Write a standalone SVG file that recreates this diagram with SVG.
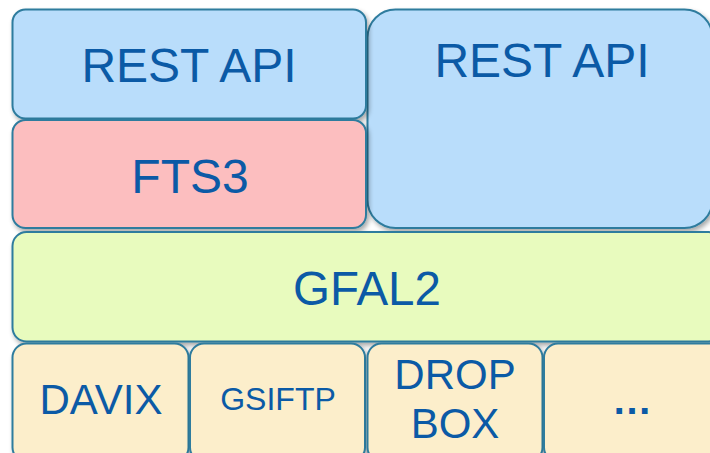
<svg xmlns="http://www.w3.org/2000/svg" width="710" height="453" viewBox="0 0 710 453">
  <defs>
    <filter id="sh" x="-5%" y="-5%" width="115%" height="120%">
      <feGaussianBlur in="SourceAlpha" stdDeviation="2.5"/>
      <feOffset dx="2" dy="3" result="b"/>
      <feComponentTransfer><feFuncA type="linear" slope="0.35"/></feComponentTransfer>
      <feMerge><feMergeNode/><feMergeNode in="SourceGraphic"/></feMerge>
    </filter>
  </defs>
  <style>
    .box { stroke: #2F7C9E; stroke-width: 2; filter: url(#sh); }
    .blue { fill: #B9DDFB; }
    .pink { fill: #FCBEBF; }
    .green { fill: #E8FBBE; }
    .tan { fill: #FCEECB; }
    text { font-family: "Liberation Sans", Arial, sans-serif; fill: #0B5AA6; text-anchor: middle; }
  </style>
  <rect width="710" height="453" fill="#FFFFFF"/>
  <g id="rest-api-right">
    <rect class="box blue" x="367.5" y="9.5" width="345" height="218.5" rx="28"/>
    <text x="542" y="77" font-size="48">REST API</text>
  </g>
  <g id="rest-api-left">
    <rect class="box blue" x="12.5" y="9.5" width="353.5" height="109" rx="13"/>
    <text x="189" y="82" font-size="48">REST API</text>
  </g>
  <g id="fts3">
    <rect class="box pink" x="12.5" y="120" width="353.5" height="108" rx="13"/>
    <text x="190" y="193" font-size="48">FTS3</text>
  </g>
  <g id="gfal2">
    <rect class="box green" x="12.5" y="232" width="710" height="109.5" rx="14"/>
    <text x="367" y="305" font-size="47.5">GFAL2</text>
  </g>
  <g id="davix">
    <rect class="box tan" x="12.5" y="343.5" width="176" height="118" rx="14"/>
    <text x="101" y="414" font-size="42">DAVIX</text>
  </g>
  <g id="gsiftp">
    <rect class="box tan" x="190" y="343.5" width="175" height="118" rx="14"/>
    <text x="278" y="410" font-size="32">GSIFTP</text>
  </g>
  <g id="dropbox">
    <rect class="box tan" x="367.5" y="343.5" width="175" height="118" rx="14"/>
    <text x="455" y="389" font-size="42">DROP</text>
    <text x="455" y="438" font-size="42">BOX</text>
  </g>
  <g id="more">
    <rect class="box tan" x="544" y="343.5" width="180" height="118" rx="14"/>
    <text x="632" y="414" font-size="40" font-weight="bold">…</text>
  </g>
  <g id="connectors"/>
</svg>
